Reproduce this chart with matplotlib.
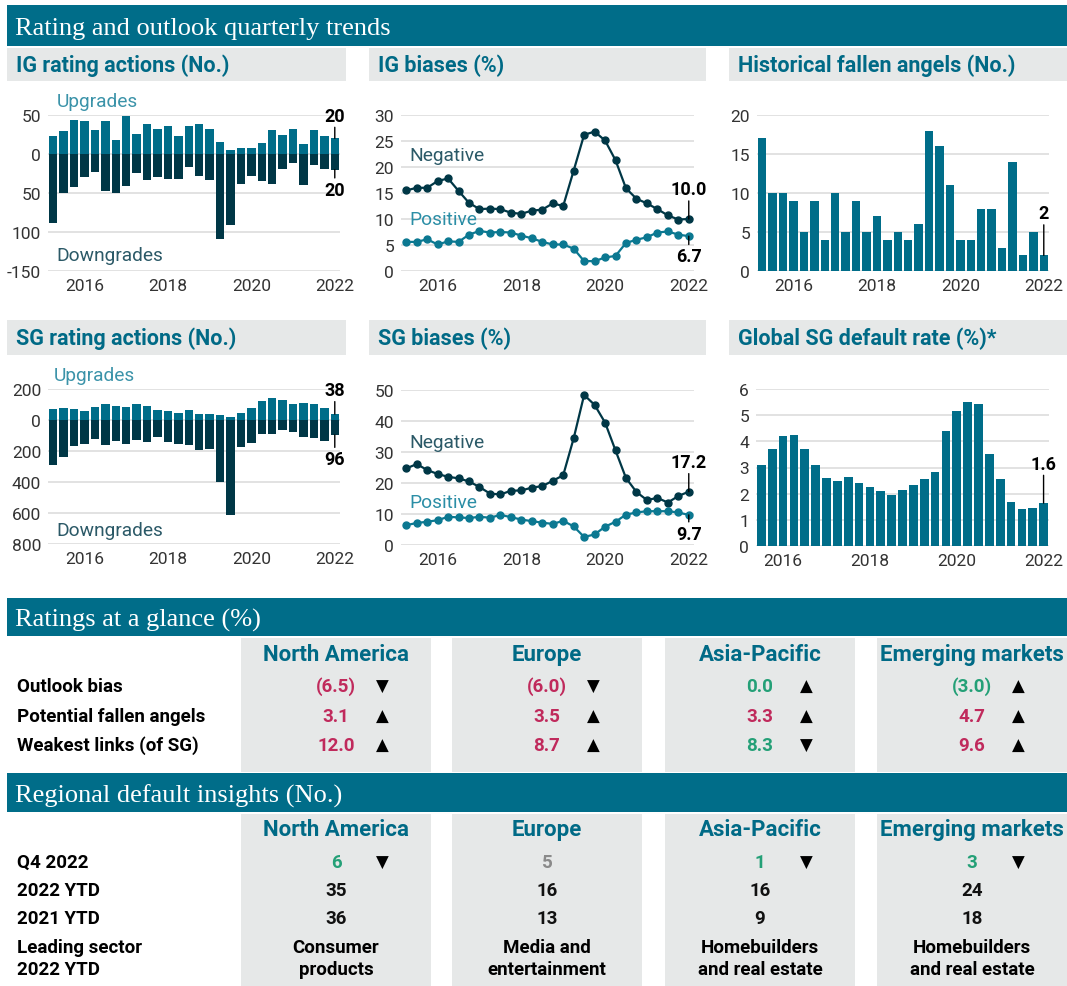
import matplotlib.pyplot as plt
from matplotlib.patches import Rectangle

plt.rcParams['font.family'] = ['Roboto', 'DejaVu Sans']

# ---- data ----
years = ['2016', '2018', '2020', '2022']
year_pos = [3, 11, 19, 27]          # Q4 of each labelled year
year_pos_dr = [2, 10, 18, 26]       # default rate series is one quarter shorter

ig_up = [23, 29, 44, 42, 31, 42, 18, 49, 26, 38, 32, 36, 23, 36, 38, 32, 15, 5, 8, 8, 14, 31, 24, 32, 13, 31, 23, 20]
ig_down = [88, 50, 42, 30, 23, 47, 50, 41, 24, 33, 30, 32, 32, 17, 28, 33, 109, 91, 38, 28, 35, 38, 19, 12, 40, 14, 19, 20]

ig_neg = [15.5, 16.0, 16.0, 17.3, 17.8, 15.4, 13.1, 11.9, 12.0, 11.9, 11.2, 11.0, 11.6, 11.8, 13.0, 12.5,
          19.3, 26.2, 26.8, 25.1, 21.3, 15.9, 13.9, 13.0, 11.9, 10.7, 9.9, 10.0]
ig_pos = [5.6, 5.6, 6.1, 5.1, 5.7, 5.6, 7.0, 7.7, 7.4, 7.5, 7.4, 6.8, 6.3, 5.6, 5.1, 5.1,
          4.3, 1.9, 1.9, 2.6, 2.9, 5.4, 6.0, 6.5, 7.4, 7.6, 7.0, 6.7]

fallen = [17, 10, 10, 9, 5, 9, 4, 10, 5, 9, 5, 7, 4, 5, 4, 6, 18, 16, 11, 4, 4, 8, 8, 3, 14, 2, 5, 2]

sg_up = [71, 77, 71, 58, 84, 103, 90, 84, 103, 90, 64, 58, 45, 64, 39, 39, 32, 19, 45, 77, 123, 142, 129, 103, 110, 103, 77, 38]
sg_down = [288, 237, 167, 154, 122, 160, 134, 154, 128, 141, 109, 141, 154, 160, 192, 186, 398, 615, 173, 147, 90, 90, 65, 77, 109, 115, 134, 96]

sg_neg = [24.7, 26.1, 24.2, 22.9, 22.0, 21.5, 20.5, 18.7, 16.6, 16.3, 17.5, 17.6, 18.5, 19.0, 20.7, 22.5,
          34.4, 48.4, 45.2, 39.5, 30.5, 21.6, 17.1, 14.5, 15.2, 13.7, 15.8, 17.2]
sg_pos = [6.4, 7.1, 7.5, 8.0, 9.1, 8.9, 8.7, 9.1, 8.8, 9.7, 9.0, 8.2, 7.7, 7.2, 6.8, 7.8,
          6.0, 2.6, 3.4, 5.9, 7.5, 9.8, 10.5, 10.9, 10.9, 10.9, 10.5, 9.7]

default_rate = [3.1, 3.7, 4.2, 4.25, 3.7, 3.1, 2.6, 2.48, 2.63, 2.4, 2.25, 2.1, 1.94, 2.14, 2.33, 2.56,
                2.83, 4.4, 5.17, 5.51, 5.44, 3.52, 2.56, 1.68, 1.41, 1.45, 1.64]

regions = ['North America', 'Europe', 'Asia-Pacific', 'Emerging markets']
glance_rows = ['Outlook bias', 'Potential fallen angels', 'Weakest links (of SG)']
outlook_bias = ['(6.5)', '(6.0)', '0.0', '(3.0)']
potential_fa = ['3.1', '3.5', '3.3', '4.7']
weakest_links = ['12.0', '8.7', '8.3', '9.6']
glance_colors = [['r', 'r', 'g', 'g'], ['r', 'r', 'r', 'r'], ['r', 'r', 'g', 'r']]
glance_arrows = [['v', 'v', '^', '^'], ['^', '^', '^', '^'], ['^', '^', 'v', '^']]

default_rows = ['Q4 2022', '2022 YTD', '2021 YTD']
q4_2022 = ['6', '5', '1', '3']
ytd_2022 = ['35', '16', '16', '24']
ytd_2021 = ['36', '13', '9', '18']
default_colors = [['g', 'n', 'g', 'g'], ['k'] * 4, ['k'] * 4]
default_arrows = [['v', '', 'v', 'v'], [''] * 4, [''] * 4]
leading_sector = ['Consumer\nproducts', 'Media and\nentertainment',
                  'Homebuilders\nand real estate', 'Homebuilders\nand real estate']

# ---- colours ----
TEAL = '#006d89'
DARK = '#003746'
PANEL = '#e6e8e8'
TITLE = '#006a86'
COLS = {'r': '#c02a5c', 'g': '#24a077', 'n': '#8a8a8a', 'k': '#111111'}

W, H = 1067, 987
fig = plt.figure(figsize=(W / 100, H / 100), dpi=100)
bg = fig.add_axes([0, 0, 1, 1])
bg.set_xlim(0, W)
bg.set_ylim(H, 0)
bg.axis('off')


def px_axes(x0, y0, x1, y1):
    ax = fig.add_axes([x0 / W, 1 - y1 / H, (x1 - x0) / W, (y1 - y0) / H])
    ax.patch.set_alpha(0)
    for s in ax.spines.values():
        s.set_visible(False)
    ax.tick_params(length=0, labelsize=12.5, colors='#333333')
    ax.tick_params(axis='x', pad=5)
    ax.tick_params(axis='y', pad=5)
    ax.grid(axis='y', color='#dddddd', lw=1.2)
    ax.set_axisbelow(True)
    return ax


def band(y0, y1, text):
    bg.add_patch(Rectangle((7, y0), W - 7, y1 - y0, color=TEAL, lw=0))
    bg.text(15, (y0 + y1) / 2 + 2.5, text, color='white', fontsize=19,
            family='Liberation Serif', va='center', ha='left')


def panel_title(x0, x1, y0, y1, text):
    bg.add_patch(Rectangle((x0, y0), x1 - x0, y1 - y0, color=PANEL, lw=0))
    bg.text(x0 + 9, (y0 + y1) / 2, text, color=TITLE, fontsize=15.5,
            fontweight='bold', va='center', ha='left')


def note(ax, x, y, text, off, va):
    ax.annotate(text, xy=(x, y), xytext=(0, off), textcoords='offset points',
                ha='center', va=va, fontsize=13, fontweight='bold', color='black',
                arrowprops=dict(arrowstyle='-', lw=1, color='black', shrinkA=0, shrinkB=0))


# ---- header ----
band(6, 47, 'Rating and outlook quarterly trends')
col_x = [(7, 346), (369, 706), (729, 1067)]
for (x0, x1), t in zip(col_x, ['IG rating actions (No.)', 'IG biases (%)', 'Historical fallen angels (No.)']):
    panel_title(x0, x1, 49, 82, t)
for (x0, x1), t in zip(col_x, ['SG rating actions (No.)', 'SG biases (%)', 'Global SG default rate (%)*']):
    panel_title(x0, x1, 321, 356, t)

n = len(ig_up)
xq = list(range(n))
LBL = 13.8

# IG rating actions
ax = px_axes(48, 116, 340, 272)
ax.bar(xq, ig_up, width=0.8, color=TEAL)
ax.bar(xq, [-v for v in ig_down], width=0.8, color=DARK)
ax.set_xlim(-0.5, n - 0.5)
ax.set_ylim(-150, 50)
ax.set_yticks([50, 0, -50, -100, -150], ['50', '0', '50', '100', '-150'])
ax.set_xticks(year_pos, years)
ax.text(0.03, 1.09, 'Upgrades', transform=ax.transAxes, color='#3b93a9', fontsize=LBL, va='center')
ax.text(0.03, 0.10, 'Downgrades', transform=ax.transAxes, color='#2b5967', fontsize=LBL, va='center')
note(ax, n - 1, ig_up[-1], f'{ig_up[-1]}', 10, 'bottom')
note(ax, n - 1, -ig_down[-1], f'{ig_down[-1]}', -8, 'top')

# IG biases
ax = px_axes(401, 116, 694, 272)
ax.plot(xq, ig_neg, color=DARK, lw=1.6, marker='o', ms=5)
ax.plot(xq, ig_pos, color='#0b7891', lw=1.6, marker='o', ms=5)
ax.set_xlim(-0.5, n - 0.5)
ax.set_ylim(0, 30)
ax.set_yticks(range(0, 31, 5))
ax.set_xticks(year_pos, years)
ax.text(0.03, 0.746, 'Negative', transform=ax.transAxes, color='#2b5967', fontsize=LBL, va='center')
ax.text(0.03, 0.335, 'Positive', transform=ax.transAxes, color='#2b8ea6', fontsize=LBL, va='center')
note(ax, n - 1, ig_neg[-1], f'{ig_neg[-1]:.1f}', 15, 'bottom')
note(ax, n - 1, ig_pos[-1], f'{ig_pos[-1]:.1f}', -8, 'top')

# Historical fallen angels
ax = px_axes(757, 116, 1049, 272)
ax.bar(xq, fallen, width=0.8, color=TEAL)
ax.set_xlim(-0.5, n - 0.5)
ax.set_ylim(0, 20)
ax.set_yticks(range(0, 21, 5))
ax.set_xticks(year_pos, years)
note(ax, n - 1, fallen[-1], f'{fallen[-1]}', 24, 'bottom')

# SG rating actions
ax = px_axes(48, 390, 340, 545)
ax.bar(xq, sg_up, width=0.8, color=TEAL)
ax.bar(xq, [-v for v in sg_down], width=0.8, color=DARK)
ax.set_xlim(-0.5, n - 0.5)
ax.set_ylim(-800, 200)
ax.set_yticks([200, 0, -200, -400, -600, -800], ['200', '0', '200', '400', '600', '800'])
ax.set_xticks(year_pos, years)
ax.text(0.02, 1.09, 'Upgrades', transform=ax.transAxes, color='#3b93a9', fontsize=LBL, va='center')
ax.text(0.03, 0.09, 'Downgrades', transform=ax.transAxes, color='#2b5967', fontsize=LBL, va='center')
note(ax, n - 1, sg_up[-1], f'{sg_up[-1]}', 11, 'bottom')
note(ax, n - 1, -sg_down[-1], f'{sg_down[-1]}', -11, 'top')

# SG biases
ax = px_axes(401, 391, 694, 546)
ax.plot(xq, sg_neg, color=DARK, lw=1.6, marker='o', ms=5)
ax.plot(xq, sg_pos, color='#0b7891', lw=1.6, marker='o', ms=5)
ax.set_xlim(-0.5, n - 0.5)
ax.set_ylim(0, 50)
ax.set_yticks(range(0, 51, 10))
ax.set_xticks(year_pos, years)
ax.text(0.03, 0.664, 'Negative', transform=ax.transAxes, color='#2b5967', fontsize=LBL, va='center')
ax.text(0.03, 0.277, 'Positive', transform=ax.transAxes, color='#2b8ea6', fontsize=LBL, va='center')
note(ax, n - 1, sg_neg[-1], f'{sg_neg[-1]:.1f}', 15, 'bottom')
note(ax, n - 1, sg_pos[-1], f'{sg_pos[-1]:.1f}', -7, 'top')

# Global SG default rate
m = len(default_rate)
ax = px_axes(756, 390, 1049, 547)
ax.bar(range(m), default_rate, width=0.8, color=TEAL)
ax.set_xlim(-0.5, m - 0.5)
ax.set_ylim(0, 6)
ax.set_yticks(range(0, 7))
ax.set_xticks(year_pos_dr, years)
note(ax, m - 1, default_rate[-1], f'{default_rate[-1]:.1f}', 22, 'bottom')

# ---- tables ----
tcols = [(241, 431), (452, 642), (665, 855), (877, 1067)]
TF = 13.5


def arrow(x, y, kind):
    if kind:
        bg.text(x, y, '▲' if kind == '^' else '▼', fontsize=12, family='DejaVu Sans',
                ha='center', va='center', color='black')


band(599, 637, 'Ratings at a glance (%)')
for (x0, x1), r in zip(tcols, regions):
    bg.add_patch(Rectangle((x0, 639), x1 - x0, 773 - 639, color=PANEL, lw=0))
    bg.text((x0 + x1) / 2, 655, r, color=TITLE, fontsize=16, fontweight='bold', ha='center', va='center')
glance_vals = [outlook_bias, potential_fa, weakest_links]
for i, (label, ry) in enumerate(zip(glance_rows, [687, 717, 746])):
    bg.text(17, ry, label, fontsize=TF, fontweight='bold', ha='left', va='center')
    for j, (x0, x1) in enumerate(tcols):
        cx = (x0 + x1) / 2
        bg.text(cx, ry, glance_vals[i][j], fontsize=TF, fontweight='bold',
                color=COLS[glance_colors[i][j]], ha='center', va='center')
        arrow(cx + 46, ry, glance_arrows[i][j])

band(774, 813, 'Regional default insights (No.)')
for (x0, x1), r in zip(tcols, regions):
    bg.add_patch(Rectangle((x0, 815), x1 - x0, H - 815, color=PANEL, lw=0))
    bg.text((x0 + x1) / 2, 830, r, color=TITLE, fontsize=16, fontweight='bold', ha='center', va='center')
default_vals = [q4_2022, ytd_2022, ytd_2021]
for i, (label, ry) in enumerate(zip(default_rows, [863, 891, 919])):
    bg.text(17, ry, label, fontsize=TF, fontweight='bold', ha='left', va='center')
    for j, (x0, x1) in enumerate(tcols):
        cx = (x0 + x1) / 2
        bg.text(cx, ry, default_vals[i][j], fontsize=TF, fontweight='bold',
                color=COLS[default_colors[i][j]], ha='center', va='center')
        arrow(cx + 46, ry, default_arrows[i][j])
bg.text(17, 959, 'Leading sector\n2022 YTD', fontsize=TF, fontweight='bold', ha='left', va='center',
        linespacing=1.3)
for (x0, x1), s in zip(tcols, leading_sector):
    bg.text((x0 + x1) / 2, 959, s, fontsize=TF, fontweight='bold', ha='center', va='center',
            linespacing=1.3)

fig.savefig('out.png', dpi=100)
